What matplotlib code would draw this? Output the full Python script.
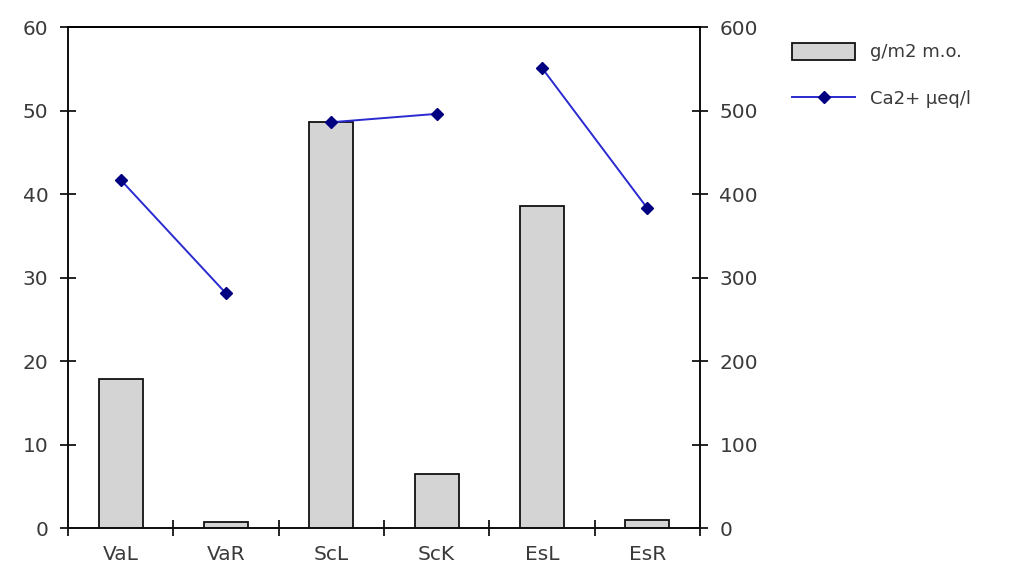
import matplotlib
matplotlib.use("Agg")
import matplotlib.pyplot as plt
import numpy as np

categories = ["VaL", "VaR", "ScL", "ScK", "EsL", "EsR"]
organic_matter = [17.8, 0.7, 48.6, 6.5, 38.6, 1.0]   # g/m2 m.o.
calcium = [417, 281, 486, 496, 551, 383]              # Ca2+ ueq/l
pairs = [(0, 1), (2, 3), (4, 5)]

text_color = "#3a3a3a"
plt.rcParams["font.family"] = ["DejaVu Sans"]
plt.rcParams["font.size"] = 14.5

fig = plt.figure(figsize=(10.21, 5.85), dpi=100)
ax = fig.add_axes([0.0666, 0.0974, 0.6190, 0.8564])
ax2 = ax.twinx()

x = np.arange(len(categories))
bars = ax.bar(x, organic_matter, width=0.42, color="#d4d4d4",
              edgecolor="#111111", linewidth=1.3, zorder=2, label="g/m2 m.o.")

line = None
for a, b in pairs:
    line, = ax2.plot([x[a], x[b]], [calcium[a], calcium[b]], color="#2a2ad0",
                     linewidth=1.4, marker="D", markersize=6,
                     markerfacecolor="#000080", markeredgecolor="#000080",
                     zorder=3, label="Ca2+ \u00b5eq/l")

ax.set_xlim(-0.5, len(categories) - 0.5)
ax.set_ylim(0, 60)
ax2.set_ylim(0, 600)
ax.set_yticks(np.arange(0, 61, 10))
ax2.set_yticks(np.arange(0, 601, 100))

ax.set_xticks(np.arange(-0.5, len(categories) + 0.5, 1))
ax.set_xticklabels([])
ax.set_xticks(x, minor=True)
ax.set_xticklabels(categories, minor=True)
ax.tick_params(axis="x", which="major", direction="inout", length=12, width=1.2)
ax.tick_params(axis="x", which="minor", length=0, pad=12, labelcolor=text_color)
ax.tick_params(axis="y", direction="inout", length=12, width=1.2, pad=8,
               labelcolor=text_color)
ax2.tick_params(axis="y", direction="inout", length=12, width=1.2, pad=8,
                labelcolor=text_color)

for axis in (ax, ax2):
    for side in ["left", "right", "bottom"]:
        axis.spines[side].set_linewidth(1.3)
        axis.spines[side].set_color("#111111")
    axis.spines["top"].set_linewidth(1.3)
ax.spines["top"].set_color("#111111")

fig.legend([bars, line], ["g/m2 m.o.", "Ca2+ \u00b5eq/l"],
           loc="upper left", bbox_to_anchor=(0.760, 0.955), frameon=False,
           handlelength=3.5, handleheight=1.1, labelspacing=1.55,
           handletextpad=0.8, fontsize=13, labelcolor=text_color)

fig.savefig("out.png", dpi=100)
